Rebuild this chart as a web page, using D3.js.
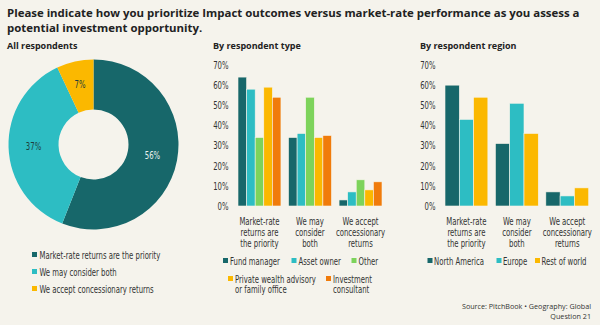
<!DOCTYPE html>
<html lang="en">
<head>
<meta charset="UTF-8">
<title>Impact vs market-rate</title>
<script src="https://cdn.jsdelivr.net/npm/d3@7"></script>
<style>
  body { margin: 0; background: #f5f3ec; }
  svg { display: block; }
  .title { font-family: "Open Sans", sans-serif; font-weight: 700; font-size: 12.6px; fill: #222; }
  .sub { font-family: "Open Sans", sans-serif; font-weight: 700; font-size: 9px; fill: #222; }
  .lbl { font-family: "DejaVu Sans Condensed", "Liberation Sans", sans-serif; font-size: 10.5px; fill: #333; }
  .src { font-family: "Open Sans", sans-serif; font-size: 7.2px; fill: #333; }
</style>
</head>
<body>
<div id="chart"></div>
<script>
// data
var answers = ["Market-rate returns are the priority", "We may consider both", "We accept concessionary returns"];
var answerLines = [["Market-rate", "returns are", "the priority"], ["We may", "consider", "both"], ["We accept", "concessionary", "returns"]];
var allValues = [56, 37, 7];

var types = ["Fund manager", "Asset owner", "Other", "Private wealth advisory or family office", "Investment consultant"];
var typeValues = [
  [64, 58, 34, 59, 54],
  [34, 36, 54, 34, 35],
  [3, 7, 13, 8, 12]
];

var regions = ["North America", "Europe", "Rest of world"];
var regionValues = [
  [60, 43, 54],
  [31, 51, 36],
  [7, 5, 9]
];

var yTicks = [0, 10, 20, 30, 40, 50, 60, 70];

var teal = "#17676a", aqua = "#2dbdc3", yellow = "#fbb800", green = "#7dd35b", orange = "#f07b0b";
var answerColors = [teal, aqua, yellow];
var typeColors = [teal, aqua, green, yellow, orange];
var regionColors = [teal, aqua, yellow];

var width = 600, height = 325;
var svg = d3.select("#chart").append("svg")
  .attr("width", width).attr("height", height);

// title, sized to fit the reference width
var t1 = svg.append("text").attr("class", "title").attr("x", 7).attr("y", 17)
  .text("Please indicate how you prioritize Impact outcomes versus market-rate performance as you assess a");
var t2 = svg.append("text").attr("class", "title").attr("x", 7).attr("y", 32)
  .text("potential investment opportunity.");
var fs = 12.6 * 573 / t1.node().getComputedTextLength();
t1.style("font-size", fs + "px");
t2.style("font-size", fs + "px");

svg.append("text").attr("class", "sub").attr("x", 7).attr("y", 49).text("All respondents");
svg.append("text").attr("class", "sub").attr("x", 213).attr("y", 49).text("By respondent type");
svg.append("text").attr("class", "sub").attr("x", 420).attr("y", 49).text("By respondent region");

// donut
var pie = d3.pie().sort(null).value(function(d) { return d; });
var arc = d3.arc().innerRadius(35).outerRadius(85);
var donut = svg.append("g").attr("transform", "translate(93.5,144.5)");
var arcs = pie(allValues);
donut.selectAll("path").data(arcs).join("path")
  .attr("d", arc)
  .attr("fill", function(d, i) { return answerColors[i]; });

var labelArc = d3.arc().innerRadius(60).outerRadius(60);
donut.selectAll("text").data(arcs).join("text")
  .attr("class", "lbl")
  .attr("transform", function(d, i) {
    var c = labelArc.centroid(d);
    if (i == 2) { c = d3.arc().innerRadius(62).outerRadius(62).centroid(d); }
    return "translate(" + c[0] + "," + c[1] + ")";
  })
  .attr("text-anchor", "middle")
  .attr("dy", "0.35em")
  .style("fill", function(d, i) { return i == 0 ? "#e8f0ef" : "#1e3d3e"; })
  .text(function(d) { return d.data + "%"; });

// donut legend
var leg1 = svg.append("g");
answers.forEach(function(a, i) {
  var y = 255 + i * 17;
  leg1.append("rect").attr("x", 32).attr("y", y - 3).attr("width", 5).attr("height", 5).attr("fill", answerColors[i]);
  leg1.append("text").attr("class", "lbl").attr("x", 39.5).attr("y", y).attr("dy", "0.35em").text(a);
});

var yScale = d3.scaleLinear().domain([0, 70]).range([206, 65]);

function barChart(values, colors, x0, x1, axisX) {
  var g = svg.append("g");
  var xScale = d3.scaleBand().domain(d3.range(answers.length)).range([x0, x1]).paddingInner(0.15).paddingOuter(0);
  var xSub = d3.scaleBand().domain(d3.range(colors.length)).range([0, xScale.bandwidth()]);

  var axis = g.append("g")
    .attr("transform", "translate(" + axisX + ",0)")
    .call(d3.axisLeft(yScale).tickValues(yTicks).tickSize(0).tickPadding(0).tickFormat(function(d) { return d + "%"; }))
    .call(function(a) { a.select(".domain").remove(); });
  axis.selectAll("text").attr("class", "lbl").attr("font-family", null).attr("font-size", null);

  var groups = g.selectAll(".grp").data(values).join("g")
    .attr("class", "grp")
    .attr("transform", function(d, i) { return "translate(" + xScale(i) + ",0)"; });
  groups.selectAll("rect").data(function(d) { return d; }).join("rect")
    .attr("x", function(d, j) { return xSub(j); })
    .attr("y", function(d) { return yScale(d); })
    .attr("width", xSub.bandwidth())
    .attr("height", function(d) { return yScale(0) - yScale(d); })
    .attr("fill", function(d, j) { return colors[j]; })
    .attr("stroke", "#f7f4ea")
    .attr("stroke-width", 0.6);

  answerLines.forEach(function(lines, i) {
    var cx = xScale(i) + xScale.bandwidth() / 2;
    var t = g.append("text").attr("class", "lbl").attr("text-anchor", "middle")
      .attr("x", cx).attr("y", 221);
    lines.forEach(function(l, k) {
      t.append("tspan").attr("x", cx).attr("dy", k == 0 ? "0.35em" : "1.05em").text(l);
    });
  });
  return g;
}

barChart(typeValues, typeColors, 238, 382, 228.5);
barChart(regionValues, regionColors, 445, 588.7, 435.5);

// type legend
var typeLegend = [
  {i: 0, x: 223, y: 261, lines: ["Fund manager"]},
  {i: 1, x: 291.5, y: 261, lines: ["Asset owner"]},
  {i: 2, x: 351.5, y: 261, lines: ["Other"]},
  {i: 3, x: 228, y: 279, lines: ["Private wealth advisory", "or family office"]},
  {i: 4, x: 326, y: 279, lines: ["Investment", "consultant"]}
];
typeLegend.forEach(function(d) {
  svg.append("rect").attr("x", d.x).attr("y", d.y - 3).attr("width", 5).attr("height", 5).attr("fill", typeColors[d.i]);
  d.lines.forEach(function(l, k) {
    svg.append("text").attr("class", "lbl").attr("x", d.x + 7).attr("y", d.y + k * 10.5).attr("dy", "0.35em").text(l);
  });
});

// region legend
var regionX = [427.5, 496.5, 535];
regions.forEach(function(r, i) {
  svg.append("rect").attr("x", regionX[i]).attr("y", 258).attr("width", 5).attr("height", 5).attr("fill", regionColors[i]);
  svg.append("text").attr("class", "lbl").attr("x", regionX[i] + 6.5).attr("y", 261).attr("dy", "0.35em").text(r);
});

// source
svg.append("text").attr("class", "src").attr("x", 591).attr("y", 309).attr("text-anchor", "end")
  .text("Source: PitchBook  \u2022  Geography: Global");
svg.append("text").attr("class", "src").attr("x", 591).attr("y", 319).attr("text-anchor", "end")
  .text("Question 21");

// the reference uses a condensed face: squeeze the labels horizontally
svg.selectAll("text.lbl").each(function() {
  var el = d3.select(this);
  var spans = el.selectAll("tspan");
  var nodes = spans.empty() ? [this] : spans.nodes();
  nodes.forEach(function(n) {
    var w = n.getComputedTextLength();
    d3.select(n).attr("textLength", w * 0.73).attr("lengthAdjust", "spacingAndGlyphs");
  });
});
</script>
</body>
</html>
